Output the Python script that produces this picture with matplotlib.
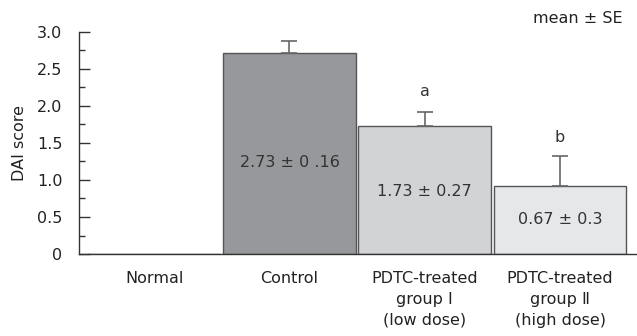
import numpy as np
import matplotlib.pyplot as plt

plt.rcParams['font.family'] = ['DejaVu Sans', 'Noto Sans CJK SC']

groups = ["Normal", "Control", "PDTC-treated\ngroup \u2160\n(low dose)",
          "PDTC-treated\ngroup \u2161\n(high dose)"]
means = [0, 2.72, 1.73, 0.92]
errors = [0, 0.16, 0.19, 0.40]
bar_labels = ["", "2.73 \u00b1 0 .16", "1.73 \u00b1 0.27", "0.67 \u00b1 0.3"]
label_y = [0, 1.23, 0.84, 0.46]
letters = ["", "", "a", "b"]
letter_y = [0, 0, 2.2, 1.58]
colors = ["white", "#97989c", "#d2d3d5", "#e6e7e8"]

fig = plt.figure(figsize=(6.37, 3.36), dpi=100)
ax = fig.add_axes([0.124, 0.244, 0.876, 0.661])

x = np.arange(len(groups))
ax.bar(x, means, width=0.98, color=colors, edgecolor="#555555", linewidth=1.0)

# upper error bars only, skip the Normal group
m = np.array(errors) > 0
ax.errorbar(x[m], np.array(means)[m], yerr=[np.zeros(m.sum()), np.array(errors)[m]],
            fmt="none", ecolor="#666666", elinewidth=1.2, capthick=1.2, capsize=6)

fs = 11.5
for xi, t, ty in zip(x, bar_labels, label_y):
    if t:
        ax.text(xi, ty, t, ha="center", va="center", fontsize=fs, color="#333333")
for xi, t, ty in zip(x, letters, letter_y):
    if t:
        ax.text(xi, ty, t, ha="center", va="center", fontsize=fs, color="#333333")

ax.set_xlim(-0.556, 3.569)
ax.set_ylim(0, 3.0)
ax.set_yticks([0, 0.5, 1.0, 1.5, 2.0, 2.5, 3.0])
ax.set_yticklabels(["0", "0.5", "1.0", "1.5", "2.0", "2.5", "3.0"])
ax.set_yticks(np.arange(0.25, 3.0, 0.5), minor=True)
ax.set_xticks(x)
ax.set_xticklabels(groups, linespacing=1.5)
ax.tick_params(axis="y", which="major", direction="in", length=8, width=1,
               color="#333333", labelsize=fs, pad=12, labelcolor="#222222")
ax.tick_params(axis="y", which="minor", direction="in", length=4, width=1,
               color="#333333")
ax.tick_params(axis="x", length=0, labelsize=fs, pad=12, labelcolor="#222222")
ax.set_ylabel("DAI score", fontsize=fs, color="#222222", labelpad=7)

for s in ["top", "right"]:
    ax.spines[s].set_visible(False)
for s in ["left", "bottom"]:
    ax.spines[s].set_color("#333333")
    ax.spines[s].set_linewidth(1.0)

fig.text(0.907, 0.946, "mean \u00b1 SE", ha="center", va="center", fontsize=fs,
         color="#222222")

fig.savefig("out.png", dpi=100)
